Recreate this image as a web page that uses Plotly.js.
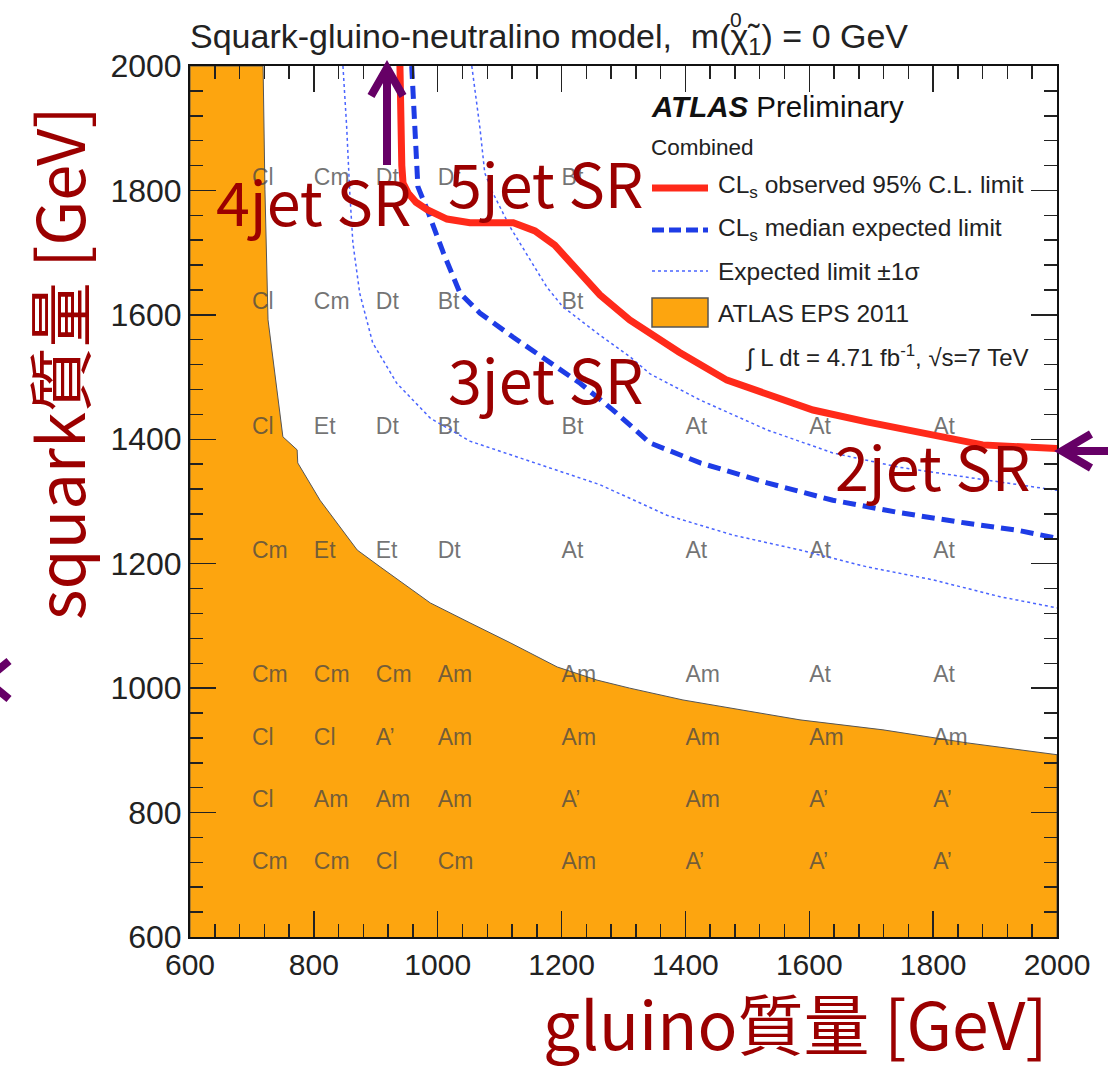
<!DOCTYPE html>
<html>
<head>
<meta charset="utf-8">
<script src="https://cdn.plot.ly/plotly-3.0.1.min.js"></script>
<style>html,body{margin:0;padding:0;background:#fff;}</style>
</head>
<body>
<div id="chart" style="width:1118px;height:1069px;"></div>
<script>
// Masses in GeV: x = gluino mass, y = squark mass

// ATLAS EPS 2011 excluded region (closed polygon)
const epsGluino = [600, 600, 718, 721, 726, 750, 773, 774, 810, 870, 907, 988, 1052, 1117, 1193, 1257, 1310, 1396, 1585, 1719, 1855, 1984, 2000, 2000];
const epsSquark = [600, 2000, 2000, 1802, 1592, 1404, 1383, 1362, 1302, 1222, 1195, 1137, 1105, 1073, 1034, 1013, 1000, 981, 949, 933, 912, 896, 893, 600];

// CLs observed 95% C.L. limit
const obsGluino = [939, 940, 942, 944, 952, 965, 983, 1015, 1052, 1122, 1157, 1189, 1218, 1262, 1310, 1390, 1467, 1606, 1693, 1800, 1880, 2000];
const obsSquark = [2000, 1900, 1840, 1812, 1796, 1781, 1769, 1754, 1748, 1748, 1735, 1712, 1680, 1632, 1592, 1540, 1495, 1447, 1428, 1407, 1391, 1385];

// CLs median expected limit
const expGluino = [958, 963, 968, 983, 1009, 1036, 1068, 1122, 1176, 1230, 1283, 1343, 1424, 1532, 1638, 1746, 1855, 1935, 2000];
const expSquark = [2000, 1902, 1806, 1769, 1700, 1635, 1603, 1564, 1527, 1490, 1447, 1394, 1362, 1330, 1302, 1282, 1265, 1254, 1241];

// Expected limit -1 sigma (upper band edge)
const expHiGluino = [1055, 1068, 1076, 1089, 1117, 1149, 1176, 1202, 1257, 1310, 1343, 1424, 1532, 1638, 1746, 1855, 2000];
const expHiSquark = [2000, 1902, 1828, 1796, 1741, 1688, 1645, 1613, 1571, 1533, 1505, 1463, 1415, 1378, 1355, 1339, 1318];

// Expected limit +1 sigma (lower band edge)
const expLoGluino = [847, 853, 858, 863, 874, 895, 934, 988, 1052, 1133, 1262, 1370, 1477, 1585, 1693, 1800, 1908, 2000];
const expLoSquark = [2000, 1902, 1796, 1716, 1635, 1555, 1490, 1434, 1397, 1370, 1327, 1278, 1246, 1222, 1195, 1174, 1147, 1129];

// Best signal region at each grid point
const gridGluino = [700, 800, 900, 1000, 1200, 1400, 1600, 1800];
const gridSquark = [1800, 1600, 1400, 1200, 1000, 900, 800, 700];
const gridLabels = [
  ['Cl', 'Cm', 'Dt', 'Dt', 'Bt', '', '', ''],
  ['Cl', 'Cm', 'Dt', 'Bt', 'Bt', '', '', ''],
  ['Cl', 'Et', 'Dt', 'Bt', 'Bt', 'At', 'At', 'At'],
  ['Cm', 'Et', 'Et', 'Dt', 'At', 'At', 'At', 'At'],
  ['Cm', 'Cm', 'Cm', 'Am', 'Am', 'Am', 'At', 'At'],
  ['Cl', 'Cl', 'A’', 'Am', 'Am', 'Am', 'Am', 'Am'],
  ['Cl', 'Am', 'Am', 'Am', 'A’', 'Am', 'A’', 'A’'],
  ['Cm', 'Cm', 'Cl', 'Cm', 'Am', 'A’', 'A’', 'A’']
];

// Jet-multiplicity signal-region labels
const srNames = ['4jet SR', '5jet SR', '3jet SR', '2jet SR'];
const srGluino = [638, 1013, 1013, 1638];
const srSquark = [1786, 1814, 1500, 1360];

const legendNames = ['CL<sub>s</sub> observed 95% C.L. limit', 'CL<sub>s</sub> median expected limit', 'Expected limit \u00B11\u03C3', 'ATLAS EPS 2011'];

// ---- styling ----
const ORANGE = '#FDA50F';
const RED = '#FF2A1A';
const BLUE = '#1E3CE6';
const LIGHTBLUE = '#4A64FF';
const PURPLE = '#660066';
const DARKRED = '#9B0000';
const SANS = 'Liberation Sans, Arial, Helvetica, sans-serif';
const CALI = 'Noto Sans CJK JP, Noto Sans, sans-serif';

// plot-area pixel helpers (plot spans 190..1057 horizontally, 66..937 vertically)
const PL = 190, PR = 1057, PT = 66, PB = 937;
const px = p => (p - PL) / (PR - PL);
const py = p => (PB - p) / (PB - PT);

const lblX = [], lblY = [], lblT = [];
gridLabels.forEach((row, i) => row.forEach((t, j) => {
  if (t) { lblX.push(gridGluino[j]); lblY.push(gridSquark[i]); lblT.push(t); }
}));

const traces = [
  { x: epsGluino, y: epsSquark, type: 'scatter', mode: 'lines', fill: 'toself',
    fillcolor: ORANGE, line: { color: '#555', width: 1 }, name: legendNames[3], hoverinfo: 'skip' },
  { x: lblX, y: lblY, text: lblT, type: 'scatter', mode: 'text', textposition: 'top right',
    textfont: { family: SANS, size: 23, color: 'rgba(70,70,70,0.75)' }, hoverinfo: 'skip' },
  { x: expLoGluino, y: expLoSquark, type: 'scatter', mode: 'lines',
    line: { color: LIGHTBLUE, width: 1.5, dash: 'dot' }, name: legendNames[2] },
  { x: expHiGluino, y: expHiSquark, type: 'scatter', mode: 'lines',
    line: { color: LIGHTBLUE, width: 1.5, dash: 'dot' }, name: legendNames[2] },
  { x: expGluino, y: expSquark, type: 'scatter', mode: 'lines',
    line: { color: BLUE, width: 5, dash: '13px,7px' }, name: legendNames[1] },
  { x: obsGluino, y: obsSquark, type: 'scatter', mode: 'lines',
    line: { color: RED, width: 7 }, name: legendNames[0] }
];

const axisCommon = {
  range: [600, 2000], tick0: 600, dtick: 200,
  ticks: 'inside', ticklen: 26, tickwidth: 1.5, tickcolor: '#222',
  showline: true, linecolor: '#111', linewidth: 2, mirror: 'allticks',
  showgrid: false, zeroline: false, fixedrange: true,
  minor: { ticks: 'inside', tick0: 600, dtick: 40, ticklen: 13, tickwidth: 1.5, tickcolor: '#222', showgrid: false }
};

const annotations = [];
function note(text, x, y, opts) {
  annotations.push(Object.assign({ text, x, y, xref: 'paper', yref: 'paper', showarrow: false,
    xanchor: 'left', yanchor: 'middle' }, opts));
}

// legend block
note('<b><i>ATLAS</i></b> Preliminary', px(649), py(106), { font: { family: SANS, size: 29.5, color: '#111' } });
note('Combined', px(649), py(148), { font: { family: SANS, size: 22.5, color: '#222' } });
[187, 229, 271, 313].forEach((yy, i) => {
  note(legendNames[i], px(716), py(yy), { font: { family: SANS, size: 24.5, color: '#222' } });
});
note('\u222B L dt = 4.71 fb<sup>-1</sup>, \u221As=7 TeV', px(1031), py(356),
  { xanchor: 'right', font: { family: SANS, size: 24, color: '#222' } });

// superscript of the neutralino symbol in the title
note('0', px(736), py(20), { xanchor: 'center', font: { family: SANS, size: 21, color: '#222' } });

// signal-region labels in data coordinates
srNames.forEach((t, i) => annotations.push({
  text: t, x: srGluino[i], y: srSquark[i], xref: 'x', yref: 'y', showarrow: false,
  xanchor: 'left', yanchor: 'middle', font: { family: CALI, size: 61, color: DARKRED }
}));

// axis titles
note('gluino質量 [GeV]', px(795), py(1021), { xanchor: 'center', font: { family: CALI, size: 66, color: DARKRED } });
note('squark質量 [GeV]', px(57), py(364), { xanchor: 'center', textangle: -90, font: { family: CALI, size: 65, color: DARKRED } });

const shapes = [
  // legend swatches
  { type: 'line', xref: 'paper', yref: 'paper', x0: px(652), x1: px(708), y0: py(188), y1: py(188), line: { color: RED, width: 7 } },
  { type: 'line', xref: 'paper', yref: 'paper', x0: px(652), x1: px(708), y0: py(230), y1: py(230), line: { color: BLUE, width: 5, dash: '12px,5px' } },
  { type: 'line', xref: 'paper', yref: 'paper', x0: px(652), x1: px(708), y0: py(271), y1: py(271), line: { color: LIGHTBLUE, width: 1.5, dash: 'dot' } },
  { type: 'rect', xref: 'paper', yref: 'paper', x0: px(652), x1: px(708), y0: py(298), y1: py(327), fillcolor: ORANGE, line: { color: '#555', width: 1.5 } },
  // arrows
  { type: 'path', xref: 'paper', yref: 'paper', path: `M${px(387)},${py(165)} L${px(387)},${py(68)}`, line: { color: PURPLE, width: 8 } },
  { type: 'path', xref: 'paper', yref: 'paper', path: `M${px(371)},${py(96)} L${px(387)},${py(68)} L${px(403)},${py(96)}`, line: { color: PURPLE, width: 8 } },
  { type: 'path', xref: 'paper', yref: 'paper', path: `M${px(1108)},${py(451)} L${px(1062)},${py(451)}`, line: { color: PURPLE, width: 8 } },
  { type: 'path', xref: 'paper', yref: 'paper', path: `M${px(1091)},${py(434)} L${px(1062)},${py(451)} L${px(1091)},${py(468)}`, line: { color: PURPLE, width: 8 } },
  { type: 'path', xref: 'paper', yref: 'paper', path: `M${px(9)},${py(661)} L${px(-14)},${py(680)} L${px(9)},${py(699)}`, line: { color: PURPLE, width: 8 } }
];

const layout = {
  width: 1118, height: 1069,
  margin: { l: PL, r: 1118 - PR, t: PT, b: 1069 - PB, pad: 0 },
  paper_bgcolor: '#fff', plot_bgcolor: '#fff',
  showlegend: false,
  title: {
    text: 'Squark-gluino-neutralino model,\u00A0\u00A0m(\u03C7\u0303<sub>1</sub>) = 0 GeV',
    x: PL / 1118, xanchor: 'left', y: 1 - 36 / 1069, yanchor: 'middle',
    font: { family: SANS, size: 34, color: '#222' }
  },
  xaxis: Object.assign({}, axisCommon, { tickfont: { family: SANS, size: 30, color: '#222' } }),
  yaxis: Object.assign({}, axisCommon, { tickfont: { family: SANS, size: 32, color: '#222' } }),
  annotations, shapes
};

Plotly.newPlot('chart', traces, layout, { displayModeBar: false, staticPlot: true });
</script>
</body>
</html>
